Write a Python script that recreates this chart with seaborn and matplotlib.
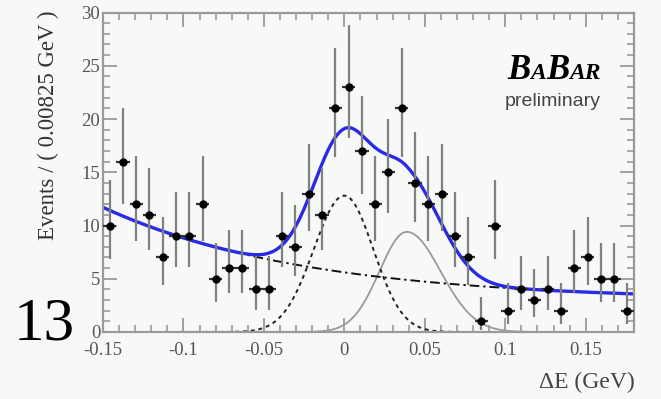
import numpy as np
import pandas as pd
import matplotlib
matplotlib.use("Agg")
import matplotlib.pyplot as plt
from matplotlib.ticker import MultipleLocator, FixedLocator, FixedFormatter
from matplotlib.offsetbox import TextArea, HPacker, VPacker, AnnotationBbox
import seaborn as sns

# ---------------- data ----------------
bin_low = -0.15
bin_width = 0.00825
counts = [10, 16, 12, 11, 7, 9, 9, 12, 5, 6,
          6, 4, 4, 9, 8, 13, 11, 21, 23, 17,
          12, 15, 21, 14, 12, 13, 9, 7, 1, 10,
          2, 4, 3, 4, 2, 6, 7, 5, 5, 2]

# fit components
bkg_const, bkg_amp, bkg_slope = 2.94, 2.66, 7.95          # background: c + a*exp(-k x)
g1_amp, g1_mean, g1_sig_l, g1_sig_r = 12.8, 0.0, 0.019, 0.018      # first peak (dotted)
g2_amp, g2_mean, g2_sig_l, g2_sig_r = 9.4, 0.0388, 0.017, 0.021    # second peak (grey)

x_ticks = [-0.15, -0.1, -0.05, 0.0, 0.05, 0.1, 0.15]
x_tick_labels = ["-0.15", "-0.1", "-0.05", "0", "0.05", "0.1", "0.15"]
y_ticks = [0, 5, 10, 15, 20, 25, 30]
y_tick_labels = ["0", "5", "10", "15", "20", "25", "30"]

# ---------------- derived tables ----------------
n = np.array(counts, dtype=float)
centers = bin_low + bin_width * (np.arange(len(counts)) + 0.5)
# Poisson (Garwood) 68% intervals, Wilson-Hilferty approximation
nn = np.maximum(n, 1)
lo = np.where(n > 0, n * (1 - 1 / (9 * nn) - 1 / (3 * np.sqrt(nn))) ** 3, 0)
hi = (n + 1) * (1 - 1 / (9 * (n + 1)) + 1 / (3 * np.sqrt(n + 1))) ** 3
data = pd.DataFrame({"x": centers, "y": n, "elo": n - lo, "ehi": hi - n})


def bifur_gauss(x, amp, mean, sl, sr):
    s = np.where(x < mean, sl, sr)
    return amp * np.exp(-0.5 * ((x - mean) / s) ** 2)


xs = np.linspace(-0.15, 0.18, 800)
bkg = bkg_const + bkg_amp * np.exp(-bkg_slope * xs)
g1 = bifur_gauss(xs, g1_amp, g1_mean, g1_sig_l, g1_sig_r)
g2 = bifur_gauss(xs, g2_amp, g2_mean, g2_sig_l, g2_sig_r)
curves = pd.DataFrame({"x": xs, "bkg": bkg, "g1": g1, "g2": g2, "total": bkg + g1 + g2})

# ---------------- style ----------------
sns.set_theme(style="ticks")
bg = "#f7f9f7"
plt.rcParams["font.family"] = ["Liberation Serif", "DejaVu Serif"]
plt.rcParams["axes.facecolor"] = bg
plt.rcParams["figure.facecolor"] = bg

fig = plt.figure(figsize=(6.61, 3.99), dpi=100)
ax = fig.add_axes([103 / 661, 1 - 332 / 399, 531 / 661, 319.5 / 399])

sns.lineplot(data=curves, x="x", y="g2", ax=ax, color="#9a9a9a", lw=1.3,
             sort=False, estimator=None, legend=False)
sns.lineplot(data=curves, x="x", y="g1", ax=ax, color="#222222", lw=1.4,
             linestyle=(0, (2, 2)), sort=False, estimator=None, legend=False)
sns.lineplot(data=curves, x="x", y="bkg", ax=ax, color="#111111", lw=1.4,
             linestyle=(0, (5, 2, 1.2, 2)), sort=False, estimator=None, legend=False)
sns.lineplot(data=curves, x="x", y="total", ax=ax, color="#2a2ae6", lw=2.4,
             sort=False, estimator=None, legend=False)

ax.errorbar(data["x"], data["y"], yerr=[data["elo"], data["ehi"]],
            fmt="none", ecolor="#808080", elinewidth=1.6, capsize=0, zorder=4)
ax.errorbar(data["x"], data["y"], xerr=bin_width / 2,
            fmt="none", ecolor="#333333", elinewidth=1.6, capsize=0, zorder=4)
sns.scatterplot(data=data, x="x", y="y", ax=ax, color="black", s=36,
                marker="o", edgecolor="black", linewidth=0, zorder=5, legend=False)

ax.set_xlim(-0.15, 0.18)
ax.set_ylim(0, 30)
ax.xaxis.set_major_locator(FixedLocator(x_ticks))
ax.xaxis.set_major_formatter(FixedFormatter(x_tick_labels))
ax.yaxis.set_major_locator(FixedLocator(y_ticks))
ax.yaxis.set_major_formatter(FixedFormatter(y_tick_labels))
ax.xaxis.set_minor_locator(MultipleLocator(0.01))
ax.yaxis.set_minor_locator(MultipleLocator(1))
ax.tick_params(which="both", direction="in", top=True, right=True,
               color="#9a9a9a", labelcolor="#555555", labelsize=13.5)
ax.tick_params(axis="y", which="major", pad=2)
ax.tick_params(axis="x", which="major", pad=7)
ax.tick_params(which="major", length=10, width=1.3)
ax.tick_params(which="minor", length=5, width=1.2)
for s in ax.spines.values():
    s.set_color("#9a9a9a")
    s.set_linewidth(1.6)
ax.set_xlabel("")
ax.set_ylabel("")

fig.text(48 / 661, 1 - 10 / 399, "Events / ( 0.00825 GeV )", rotation=90,
         ha="center", va="top", fontsize=16.5, color="#333333")
fig.text(635 / 661, 1 - 382 / 399, "ΔE (GeV)", ha="right", va="center",
         fontsize=17, color="#444444")
fig.text(14 / 661, 1 - 325 / 399, "13", ha="left", va="center",
         fontsize=44, color="black")

# BaBar logo
big = dict(fontsize=25, fontweight="bold", fontstyle="italic", color="black",
           family="Liberation Serif")
small = dict(fontsize=17, fontweight="bold", fontstyle="italic", color="black",
             family="Liberation Serif")
logo = HPacker(children=[TextArea("B", textprops=big), TextArea("A", textprops=small),
                         TextArea("B", textprops=big), TextArea("AR", textprops=small)],
               align="baseline", pad=0, sep=0)
prelim = TextArea("preliminary", textprops=dict(fontsize=14, color="#444444",
                                                family="Liberation Sans"))
box = VPacker(children=[logo, prelim], align="right", pad=0, sep=4)
ab = AnnotationBbox(box, (601 / 661, 1 - 54 / 399), xycoords="figure fraction",
                    box_alignment=(1, 1), frameon=False, pad=0)
fig.add_artist(ab)

fig.savefig("out.png", dpi=100, facecolor=bg)
